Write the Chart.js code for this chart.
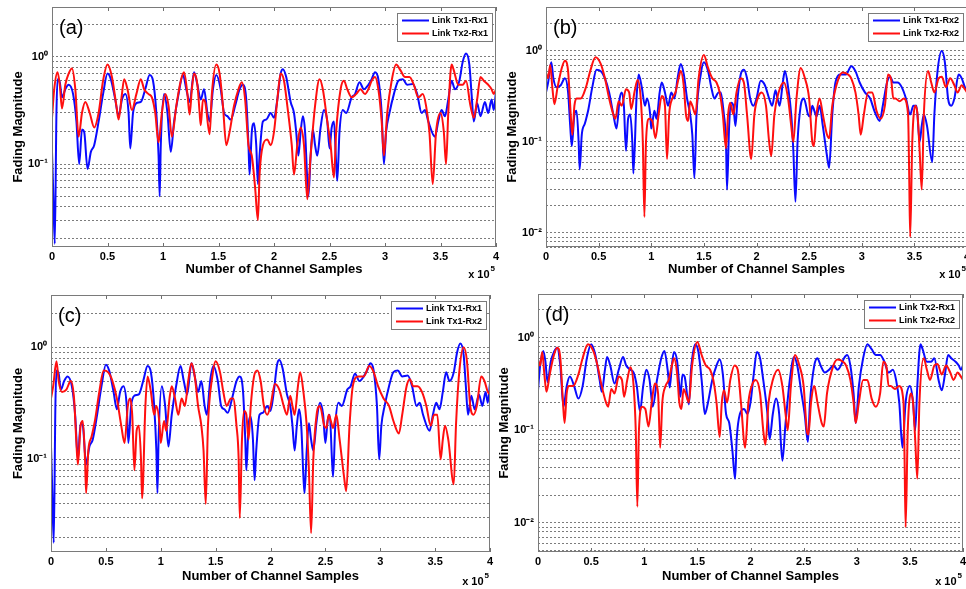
<!DOCTYPE html>
<html><head><meta charset="utf-8">
<script src="https://cdn.jsdelivr.net/npm/chart.js@4.4.1/dist/chart.umd.min.js"></script>
<style>
html,body{margin:0;padding:0;background:#fff;}
body{position:relative;width:966px;height:589px;overflow:hidden;}
canvas{position:absolute;}
</style></head><body>
<canvas id="ca" width="504" height="290" style="left:0px;top:0px"></canvas>
<canvas id="cb" width="481" height="290" style="left:494px;top:0px"></canvas>
<canvas id="cc" width="498" height="299" style="left:0px;top:290px"></canvas>
<canvas id="cd" width="485" height="299" style="left:486px;top:290px"></canvas>
<script>
// ---------- axis ticks ----------
const xTickValues = [0, 0.5, 1, 1.5, 2, 2.5, 3, 3.5, 4];
const xTickLabels = ['0', '0.5', '1', '1.5', '2', '2.5', '3', '3.5', '4'];
const yTickValues = [0.005, 0.006, 0.007, 0.008, 0.009,
  0.01, 0.02, 0.03, 0.04, 0.05, 0.06, 0.07, 0.08, 0.09,
  0.1, 0.2, 0.3, 0.4, 0.5, 0.6, 0.7, 0.8, 0.9, 1, 2];
const yDecadeValues = [1, 0.1, 0.01];
const yDecadeLabels = ['10\u2070', '10\u207B\u00B9', '10\u207B\u00B2'];
const xTitle = 'Number of Channel Samples';
const yTitle = 'Fading Magnitude';

// ---------- series (x in units of 1e5 samples) ----------
const tx1rx1X = [0,0.01,0.025,0.04,0.05,0.07,0.09,0.12,0.15,0.19,
  0.22,0.245,0.27,0.29,0.32,0.35,0.38,0.42,0.46,0.5,
  0.53,0.57,0.6,0.63,0.66,0.69,0.705,0.73,0.76,0.8,
  0.84,0.88,0.91,0.94,0.96,0.97,0.98,1.01,1.04,1.07,
  1.1,1.14,1.18,1.21,1.24,1.28,1.31,1.34,1.37,1.4,
  1.42,1.45,1.48,1.52,1.55,1.58,1.61,1.65,1.69,1.72,
  1.75,1.77,1.78,1.8,1.82,1.84,1.855,1.87,1.9,1.93,
  1.97,2.0,2.03,2.06,2.08,2.11,2.15,2.18,2.2,2.22,
  2.24,2.26,2.28,2.3,2.31,2.33,2.35,2.37,2.39,2.42,
  2.45,2.48,2.5,2.52,2.54,2.56,2.57,2.59,2.62,2.65,
  2.7,2.73,2.77,2.81,2.85,2.88,2.91,2.94,2.97,2.99,
  3.01,3.04,3.08,3.12,3.16,3.2,3.25,3.29,3.33,3.36,
  3.39,3.45,3.48,3.51,3.54,3.57,3.6,3.63,3.67,3.7,
  3.73,3.76,3.78,3.8,3.83,3.86,3.9,3.93,3.96,3.98,
  4.0];
const tx1rx1Y = [0.13,0.06,0.018,0.3,0.62,0.58,0.42,0.5,0.55,0.45,
  0.25,0.1,0.21,0.2,0.09,0.13,0.15,0.25,0.45,0.7,
  0.62,0.4,0.28,0.4,0.45,0.3,0.14,0.3,0.37,0.38,
  0.5,0.68,0.6,0.3,0.12,0.05,0.15,0.45,0.3,0.13,
  0.25,0.45,0.68,0.5,0.38,0.72,0.55,0.4,0.5,0.3,
  0.25,0.5,0.68,0.5,0.3,0.28,0.26,0.35,0.5,0.55,
  0.4,0.15,0.08,0.2,0.24,0.15,0.065,0.12,0.25,0.26,
  0.3,0.27,0.4,0.7,0.77,0.65,0.38,0.3,0.2,0.12,
  0.2,0.28,0.2,0.07,0.05,0.12,0.21,0.15,0.12,0.22,
  0.32,0.25,0.14,0.22,0.25,0.1,0.07,0.2,0.32,0.3,
  0.42,0.45,0.58,0.5,0.55,0.62,0.72,0.62,0.3,0.1,
  0.2,0.3,0.45,0.6,0.62,0.55,0.56,0.45,0.3,0.32,
  0.25,0.18,0.25,0.32,0.28,0.4,0.6,0.5,0.6,0.9,
  1.08,0.85,0.45,0.25,0.37,0.28,0.38,0.3,0.4,0.32,
  0.48];

const tx2rx1X = [0,0.02,0.05,0.07,0.09,0.12,0.15,0.18,0.21,0.24,
  0.27,0.3,0.34,0.38,0.42,0.46,0.5,0.54,0.58,0.6,
  0.63,0.65,0.68,0.72,0.76,0.8,0.83,0.87,0.9,0.93,
  0.96,0.99,1.02,1.05,1.08,1.12,1.16,1.19,1.22,1.24,
  1.26,1.28,1.31,1.33,1.34,1.36,1.38,1.42,1.44,1.48,
  1.51,1.54,1.57,1.6,1.64,1.68,1.71,1.74,1.77,1.8,
  1.83,1.855,1.87,1.9,1.94,1.97,2.0,2.03,2.06,2.09,
  2.12,2.16,2.18,2.21,2.24,2.27,2.3,2.33,2.37,2.41,
  2.44,2.48,2.51,2.54,2.56,2.6,2.63,2.66,2.7,2.74,
  2.78,2.82,2.85,2.88,2.91,2.94,2.97,2.99,3.02,3.06,
  3.1,3.14,3.18,3.22,3.26,3.3,3.34,3.37,3.4,3.43,
  3.46,3.5,3.53,3.55,3.57,3.6,3.62,3.66,3.7,3.73,
  3.77,3.8,3.83,3.86,3.89,3.93,3.96,3.98,4.0];
const tx2rx1Y = [0.27,0.5,0.72,0.55,0.33,0.55,0.7,0.78,0.5,0.18,
  0.3,0.38,0.3,0.22,0.3,0.6,0.85,0.65,0.35,0.26,
  0.45,0.62,0.5,0.32,0.45,0.62,0.5,0.45,0.42,0.3,
  0.16,0.3,0.45,0.35,0.18,0.35,0.6,0.72,0.45,0.29,
  0.5,0.7,0.55,0.3,0.23,0.4,0.38,0.19,0.45,0.85,
  0.7,0.35,0.15,0.2,0.35,0.5,0.58,0.4,0.15,0.12,
  0.06,0.03,0.08,0.15,0.17,0.15,0.2,0.4,0.7,0.6,
  0.35,0.15,0.08,0.15,0.22,0.15,0.047,0.12,0.35,0.62,
  0.5,0.25,0.15,0.075,0.2,0.5,0.6,0.5,0.42,0.45,
  0.5,0.45,0.5,0.6,0.65,0.5,0.25,0.12,0.3,0.6,
  0.85,0.75,0.65,0.65,0.55,0.42,0.45,0.35,0.2,0.065,
  0.2,0.3,0.2,0.1,0.3,0.85,0.75,0.55,0.55,0.6,
  0.35,0.27,0.4,0.65,0.6,0.55,0.5,0.45,0.5];

const tx1rx2X = [0,0.02,0.05,0.07,0.1,0.14,0.18,0.21,0.23,0.245,
  0.27,0.29,0.31,0.32,0.34,0.37,0.4,0.44,0.48,0.52,
  0.56,0.6,0.64,0.67,0.7,0.72,0.74,0.76,0.78,0.8,
  0.82,0.83,0.86,0.88,0.91,0.94,0.96,0.99,1.0,1.03,
  1.05,1.08,1.1,1.13,1.16,1.19,1.22,1.25,1.28,1.31,
  1.34,1.37,1.39,1.41,1.43,1.47,1.5,1.54,1.57,1.6,
  1.64,1.66,1.69,1.71,1.72,1.74,1.76,1.78,1.8,1.82,
  1.85,1.88,1.91,1.94,1.97,2.0,2.04,2.08,2.12,2.15,
  2.18,2.2,2.22,2.25,2.27,2.3,2.33,2.35,2.37,2.39,
  2.42,2.45,2.49,2.51,2.53,2.55,2.57,2.6,2.63,2.67,
  2.69,2.72,2.75,2.8,2.85,2.9,2.94,2.98,3.03,3.08,
  3.12,3.17,3.2,3.24,3.27,3.3,3.34,3.38,3.42,3.46,
  3.49,3.52,3.55,3.57,3.59,3.62,3.67,3.69,3.72,3.76,
  3.79,3.82,3.85,3.88,3.92,3.95,3.98,4.0];
const tx1rx2Y = [0.35,0.45,0.75,0.5,0.4,0.42,0.5,0.35,0.15,0.09,
  0.2,0.22,0.1,0.05,0.12,0.16,0.22,0.4,0.62,0.6,
  0.5,0.35,0.2,0.14,0.3,0.35,0.25,0.08,0.18,0.2,
  0.1,0.045,0.3,0.55,0.4,0.25,0.3,0.2,0.14,0.22,
  0.18,0.35,0.45,0.35,0.25,0.35,0.3,0.5,0.72,0.55,
  0.3,0.2,0.12,0.04,0.2,0.55,0.75,0.6,0.4,0.3,
  0.35,0.35,0.2,0.1,0.03,0.15,0.27,0.25,0.15,0.3,
  0.55,0.62,0.5,0.3,0.25,0.3,0.47,0.42,0.3,0.25,
  0.37,0.3,0.25,0.45,0.6,0.4,0.2,0.08,0.022,0.1,
  0.25,0.3,0.2,0.19,0.25,0.22,0.19,0.25,0.15,0.07,
  0.052,0.2,0.45,0.55,0.55,0.68,0.6,0.45,0.35,0.3,
  0.22,0.17,0.25,0.45,0.52,0.45,0.45,0.4,0.3,0.2,
  0.25,0.25,0.1,0.15,0.2,0.15,0.06,0.2,0.6,1.0,
  0.75,0.3,0.25,0.3,0.55,0.5,0.4,0.38];

const tx2rx2X = [0,0.02,0.04,0.06,0.08,0.11,0.15,0.18,0.21,0.235,
  0.25,0.27,0.29,0.33,0.38,0.42,0.47,0.52,0.56,0.6,
  0.64,0.66,0.69,0.72,0.76,0.79,0.81,0.84,0.87,0.9,
  0.92,0.935,0.95,0.98,1.01,1.04,1.07,1.1,1.13,1.15,
  1.17,1.2,1.23,1.26,1.28,1.31,1.33,1.35,1.37,1.39,
  1.42,1.45,1.5,1.54,1.58,1.62,1.65,1.68,1.71,1.73,
  1.75,1.78,1.81,1.85,1.88,1.91,1.95,1.98,2.02,2.05,
  2.09,2.12,2.14,2.17,2.21,2.26,2.3,2.33,2.35,2.38,
  2.42,2.46,2.5,2.53,2.545,2.57,2.6,2.63,2.67,2.69,
  2.72,2.78,2.82,2.87,2.9,2.94,2.97,2.99,3.02,3.06,
  3.1,3.14,3.18,3.22,3.25,3.28,3.3,3.32,3.36,3.4,
  3.44,3.45,3.46,3.48,3.51,3.53,3.55,3.57,3.59,3.63,
  3.66,3.69,3.73,3.76,3.8,3.84,3.88,3.91,3.95,3.98,
  4.0];
const tx2rx2Y = [0.58,0.5,0.7,0.4,0.26,0.4,0.65,0.78,0.6,0.2,
  0.12,0.25,0.3,0.3,0.4,0.6,0.85,0.72,0.5,0.3,
  0.2,0.18,0.28,0.25,0.38,0.35,0.23,0.35,0.48,0.3,
  0.1,0.015,0.1,0.18,0.17,0.11,0.2,0.32,0.25,0.065,
  0.2,0.3,0.35,0.5,0.6,0.4,0.2,0.17,0.28,0.25,
  0.2,0.5,0.9,0.65,0.5,0.45,0.35,0.2,0.085,0.2,
  0.27,0.2,0.35,0.5,0.45,0.2,0.065,0.2,0.32,0.35,
  0.25,0.1,0.07,0.2,0.35,0.45,0.3,0.15,0.1,0.3,
  0.65,0.5,0.3,0.1,0.09,0.2,0.3,0.2,0.12,0.11,
  0.25,0.5,0.58,0.55,0.5,0.35,0.2,0.12,0.2,0.35,
  0.35,0.22,0.18,0.25,0.55,0.48,0.3,0.3,0.28,0.3,
  0.2,0.05,0.009,0.1,0.25,0.2,0.08,0.03,0.2,0.6,
  0.45,0.35,0.5,0.52,0.4,0.5,0.42,0.35,0.42,0.38,
  0.35];

const BLUE = 'rgb(10,10,255)';
const RED = 'rgb(255,15,15)';
const FONT = '"Liberation Sans", Arial, Helvetica, sans-serif';

const framePlugin = {
  id: 'frame',
  afterDraw(chart, args, o) {
    const ctx = chart.ctx, a = chart.chartArea, xs = chart.scales.x;
    ctx.save();
    // tick marks (inward) top and bottom
    ctx.strokeStyle = '#6e6e6e'; ctx.lineWidth = 1;
    xs.ticks.forEach(t => {
      const px = Math.round(xs.getPixelForValue(t.value)) + 0.5;
      ctx.beginPath();
      ctx.moveTo(px, a.bottom); ctx.lineTo(px, a.bottom - 4);
      ctx.moveTo(px, a.top); ctx.lineTo(px, a.top + 4);
      ctx.stroke();
    });
    // frame
    ctx.strokeStyle = '#7a7a7a';
    ctx.strokeRect(Math.round(a.left) + 0.5, Math.round(a.top) + 0.5, Math.round(a.width) - 1, Math.round(a.height) - 1);
    // panel tag
    ctx.fillStyle = '#000';
    ctx.font = '20px ' + FONT;
    ctx.textAlign = 'left'; ctx.textBaseline = 'alphabetic';
    ctx.fillText(o.tag, a.left + 7, a.top + 26.5);
    // x 10^5
    ctx.font = 'bold 8px ' + FONT;
    const w5 = ctx.measureText('5').width;
    ctx.textAlign = 'right';
    const base = a.bottom + o.expOffset;
    const rx = a.right - 1;
    ctx.fillText('5', rx, base - 7);
    ctx.font = 'bold 11px ' + FONT;
    ctx.fillText('x 10', rx - w5 - 1, base);
    // legend
    const items = chart.data.datasets;
    ctx.font = 'bold 9px ' + FONT;
    const tw = Math.max(...items.map(d => ctx.measureText(d.label).width));
    const bw = Math.round(35 + tw + 4), bh = 28;
    const bx = Math.round(a.right - 4 - bw), by = Math.round(a.top + 6);
    ctx.fillStyle = '#fff';
    ctx.fillRect(bx, by, bw, bh);
    ctx.strokeStyle = '#7a7a7a'; ctx.lineWidth = 1;
    ctx.strokeRect(bx + 0.5, by + 0.5, bw, bh);
    items.forEach((d, i) => {
      const y = by + 7.5 + i * 13;
      ctx.strokeStyle = d.borderColor; ctx.lineWidth = 2;
      ctx.beginPath(); ctx.moveTo(bx + 5, y); ctx.lineTo(bx + 32, y); ctx.stroke();
      ctx.fillStyle = '#000'; ctx.textAlign = 'left'; ctx.textBaseline = 'middle';
      ctx.fillText(d.label, bx + 35, y + 0.5);
    });
    ctx.restore();
  }
};

function decadeLabel(v) {
  for (let i = 0; i < yDecadeValues.length; i++) {
    if (Math.abs(v - yDecadeValues[i]) < 1e-9 * yDecadeValues[i] + 1e-12) return yDecadeLabels[i];
  }
  return '';
}

function makeChart(id, cfg) {
  const ds = cfg.series.map((s, i) => ({
    label: s.label,
    data: s.x.map((x, j) => ({x: x, y: s.y[j]})),
    borderColor: s.color,
    borderWidth: 2,
    pointRadius: 0,
    cubicInterpolationMode: 'monotone',
    fill: false,
    order: i === 0 ? 1 : 0
  }));
  return new Chart(document.getElementById(id), {
    type: 'line',
    data: {datasets: ds},
    options: {
      responsive: false, animation: false, events: [],
      layout: {padding: {top: cfg.padTop, right: cfg.padRight, left: 0, bottom: 0}},
      plugins: {legend: {display: false}, tooltip: {enabled: false},
        frame: {tag: cfg.tag, expOffset: cfg.expOffset}},
      scales: {
        x: {
          type: 'linear', min: 0, max: 4,
          afterBuildTicks: s => { s.ticks = xTickValues.map(v => ({value: v})); },
          afterFit: s => { s.height = cfg.xAxisH; s.paddingLeft = 0; s.paddingRight = 0; },
          grid: {display: false, drawTicks: false}, border: {display: false},
          ticks: {autoSkip: false, maxRotation: 0, padding: 3, color: '#000',
            font: {family: FONT, size: 11, weight: 'bold'},
            callback: v => xTickLabels[xTickValues.indexOf(v)]},
          title: {display: true, text: xTitle, color: '#000',
            font: {family: FONT, size: 13, weight: 'bold'},
            padding: {top: 0, bottom: cfg.xTitlePad}}
        },
        y: {
          type: 'logarithmic', min: cfg.yMin, max: cfg.yMax,
          afterBuildTicks: s => { s.ticks = yTickValues.filter(v => v >= cfg.yMin && v <= cfg.yMax).map(v => ({value: v})); },
          afterFit: s => { s.width = cfg.yAxisW; s.paddingTop = 0; s.paddingBottom = 0; },
          grid: {color: '#7c7c7c', lineWidth: 1, drawTicks: false},
          border: {display: false, dash: [2, 2]},
          ticks: {autoSkip: false, padding: 4, color: '#000',
            font: {family: FONT, size: 11, weight: 'bold'},
            callback: v => decadeLabel(v)},
          title: {display: true, text: yTitle, color: '#000',
            font: {family: FONT, size: 13, weight: 'bold'},
            padding: {top: 10.5, bottom: 0}}
        }
      }
    },
    plugins: [framePlugin]
  });
}

makeChart('ca', {tag: '(a)', padTop: 7, padRight: 8, xAxisH: 43, yAxisW: 52, xTitlePad: 13.2, expOffset: 31,
  yMin: 0.0168, yMax: 2.93,
  series: [{label: 'Link Tx1-Rx1', x: tx1rx1X, y: tx1rx1Y, color: BLUE},
           {label: 'Link Tx2-Rx1', x: tx2rx1X, y: tx2rx1Y, color: RED}]});
makeChart('cb', {tag: '(b)', padTop: 7, padRight: 8, xAxisH: 43, yAxisW: 52, xTitlePad: 13.2, expOffset: 31,
  yMin: 0.007, yMax: 3.04,
  series: [{label: 'Link Tx1-Rx2', x: tx1rx2X, y: tx1rx2Y, color: BLUE},
           {label: 'Link Tx2-Rx2', x: tx2rx2X, y: tx2rx2Y, color: RED}]});
makeChart('cc', {tag: '(c)', padTop: 5, padRight: 8, xAxisH: 37, yAxisW: 51, xTitlePad: 5.2, expOffset: 33,
  yMin: 0.0149, yMax: 2.93,
  series: [{label: 'Link Tx1-Rx1', x: tx1rx1X, y: tx1rx1Y, color: BLUE},
           {label: 'Link Tx1-Rx2', x: tx1rx2X, y: tx1rx2Y, color: RED}]});
makeChart('cd', {tag: '(d)', padTop: 4, padRight: 8, xAxisH: 37, yAxisW: 52, xTitlePad: 5.2, expOffset: 33,
  yMin: 0.00486, yMax: 2.96,
  series: [{label: 'Link Tx2-Rx1', x: tx2rx1X, y: tx2rx1Y, color: BLUE},
           {label: 'Link Tx2-Rx2', x: tx2rx2X, y: tx2rx2Y, color: RED}]});
</script>
</body></html>
